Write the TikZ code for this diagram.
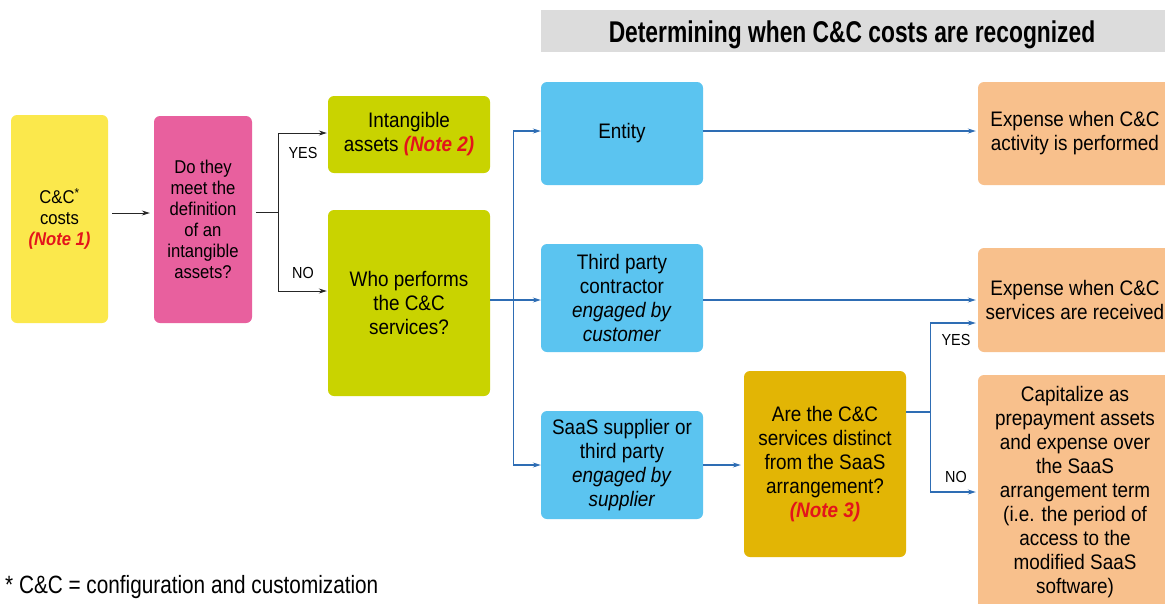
\documentclass[tikz,border=0pt]{standalone}
\usepackage{fontspec}
\setmainfont{Liberation Sans}[FakeStretch=0.9]
\newfontfamily\titlefont{Liberation Sans}[FakeStretch=0.76]
\newfontfamily\footfont{Liberation Sans}[FakeStretch=0.83]
\usetikzlibrary{arrows.meta}
\definecolor{cyel}{HTML}{FBE84C}
\definecolor{cpink}{HTML}{E8609E}
\definecolor{clime}{HTML}{C9D300}
\definecolor{cblue}{HTML}{5BC4F0}
\definecolor{cgold}{HTML}{E2B505}
\definecolor{cpeach}{HTML}{F8C08C}
\definecolor{cgray}{HTML}{DCDCDC}
\definecolor{cline}{HTML}{2E6DB4}
\definecolor{cnote}{HTML}{E3141B}
\newcommand{\notetxt}[1]{{\color{cnote}\bfseries\itshape #1}}
\begin{document}
\begin{tikzpicture}[x=1pt,y=-1pt,
  box/.style={rounded corners=6pt, inner sep=0pt, align=center, text=black,
    font=\fontsize{21}{24}\selectfont},
  smallbox/.style={box, font=\fontsize{18.5}{21}\selectfont},
  lbl/.style={font=\fontsize{16}{18}\selectfont, inner sep=0pt},
  kconn/.style={draw=black!85, line width=0.9pt},
  karr/.style={kconn, -{Stealth[length=8pt,width=5pt]}},
  bconn/.style={draw=cline, line width=1.1pt},
  barr/.style={bconn, -{Stealth[length=8pt,width=5pt]}}]
\clip (0,0) rectangle (1165,603);
\fill[white] (0,0) rectangle (1165,603);
% title
\fill[cgray] (541,10) rectangle (1165,52);
\node[font=\titlefont\bfseries\fontsize{30}{33}\selectfont, inner sep=0pt, anchor=base] (title) at (852,42) {Determining when C\&C costs are recognized};
% boxes
\node[smallbox, fill=cyel, minimum width=97pt, minimum height=208pt] (yel) at (59.5,219) {C\&C\textsuperscript{*}\\costs\\\notetxt{(Note 1)}};
\node[smallbox, fill=cpink, minimum width=98pt, minimum height=207pt] (pink) at (203,219.5) {Do they\\meet the\\definition\\of an\\intangible\\assets?};
\node[box, fill=clime, minimum width=162pt, minimum height=77pt] (intang) at (409,134.5) {Intangible\\assets \notetxt{(Note 2)}};
\node[box, fill=clime, minimum width=162pt, minimum height=186pt] (who) at (409,303) {Who performs\\the C\&C\\services?};
\node[box, fill=cblue, minimum width=162pt, minimum height=103pt] (entity) at (622,133.5) {Entity};
\node[box, fill=cblue, minimum width=162pt, minimum height=108pt] (third) at (622,298) {Third party\\contractor\\\textit{engaged by}\\\textit{customer}};
\node[box, fill=cblue, minimum width=162pt, minimum height=108pt] (saas) at (622,465) {SaaS supplier or\\third party\\\textit{engaged by}\\\textit{supplier}};
\node[box, fill=cgold, minimum width=162pt, minimum height=186pt] (are) at (825,464) {Are the C\&C\\services distinct\\from the SaaS\\arrangement?\\\notetxt{(Note 3)}};
\node[box, fill=cpeach, minimum width=194pt, minimum height=103pt] (exp1) at (1075,133.5) {Expense when C\&C\\activity is performed};
\node[box, fill=cpeach, minimum width=194pt, minimum height=104pt] (exp2) at (1075,300) {Expense when C\&C\\services are received};
\node[box, fill=cpeach, minimum width=194pt, minimum height=234pt] (cap) at (1075,492) {Capitalize as\\prepayment assets\\and expense over\\the SaaS\\arrangement term\\(i.e. the period of\\access to the\\modified SaaS\\software)};
% left connectors
\draw[karr, shorten <=4pt, shorten >=4pt] ([yshift=6pt]yel.east) -- ([yshift=6pt]yel.east -| pink.west);
\draw[kconn] ([xshift=4pt,yshift=7pt]pink.east) -- ++(22,0) coordinate (pj);
\draw[karr, shorten >=1pt] (pj) |- ([yshift=1.5pt]intang.west);
\draw[karr, shorten >=1pt] (pj) |- ([yshift=12pt]who.west);
\node[lbl] (yes1) at (303,153) {YES};
\node[lbl] (no1) at (303,273) {NO};
% blue connectors
\draw[bconn] ([yshift=3pt]who.east) -- ++(23,0) coordinate (bj);
\draw[barr] (bj) |- ([yshift=2.5pt]entity.west);
\draw[barr] (bj) |- ([yshift=-2pt]third.west);
\draw[barr] (bj) |- (saas.west);
\draw[barr, shorten >=2pt] ([yshift=2.5pt]entity.east) -- ([yshift=2.5pt]entity.east -| exp1.west);
\draw[barr, shorten >=2pt] ([yshift=-2pt]third.east) -- ([yshift=-2pt]third.east -| exp2.west);
\draw[barr, shorten >=3pt] (saas.east) -- (saas.east -| are.west);
\draw[bconn] ([yshift=52pt]are.east) -- ++(24,0) coordinate (aj);
\draw[barr, shorten >=2pt] (aj) |- ([yshift=-23pt]exp2.west);
\draw[barr, shorten >=2pt] (aj) |- (cap.west);
\node[lbl] (yes2) at (956,340) {YES};
\node[lbl] (no2) at (956,477) {NO};
% footnote
\node[anchor=west, inner sep=0pt, font=\footfont\fontsize{25}{28}\selectfont] (foot) at (5,587) {* C\&C = configuration and customization};
\end{tikzpicture}
\end{document}
